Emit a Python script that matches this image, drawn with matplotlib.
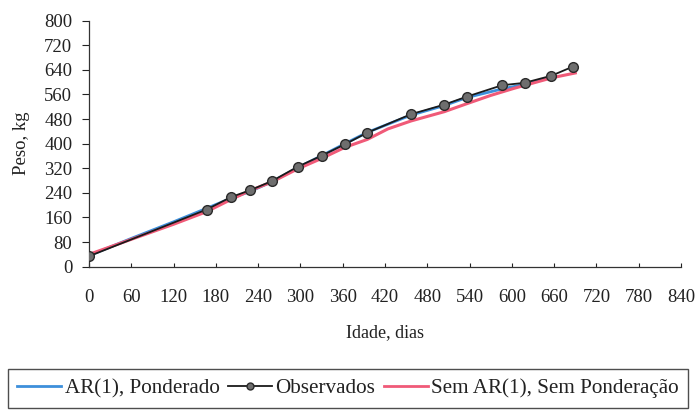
import matplotlib
matplotlib.use("Agg")
import matplotlib.pyplot as plt
from matplotlib.lines import Line2D

# Observed
obs_days = [0, 167, 201, 229, 260, 296, 330, 363, 395, 457, 504, 536, 586, 618, 656, 687]
obs_vals = [34, 186, 226, 249, 279, 325, 361, 398, 436, 496, 527, 553, 590, 598, 621, 651]

# AR(1), Ponderado
ar_days = [0, 60, 120, 167, 201, 229, 260, 296, 330, 363, 395, 457, 504, 536, 586, 618, 656]
ar_vals = [36, 92, 146, 190, 222, 245, 277, 322, 361, 400, 437, 493, 524, 550, 578, 593, 616]

# Sem AR(1), Sem Ponderacao
sem_days = [0, 60, 120, 167, 201, 229, 260, 296, 330, 363, 395, 424, 457, 504, 536, 570, 603, 658, 690]
sem_vals = [40, 89, 138, 179, 218, 248, 276, 318, 352, 388, 414, 448, 474, 504, 530, 557, 580, 615, 630]

xticks = list(range(0, 841, 60))
yticks = list(range(0, 801, 80))

plt.rcParams['font.family'] = ['Liberation Serif', 'DejaVu Serif']

fig = plt.figure(figsize=(6.98, 4.11), dpi=100)
ax = fig.add_axes([89/698, 1-266.7/411, (681-89)/698, (266.7-20.7)/411])

blue = '#3d8fdb'
pink = '#f05a78'
ax.plot(ar_days, ar_vals, color=blue, lw=2.0, zorder=2)
ax.plot(sem_days, sem_vals, color=pink, lw=2.2, zorder=3)
ax.plot(obs_days, obs_vals, color='#1a1a1a', lw=1.3, marker='o', ms=7,
        mfc='#6e6e6e', mec='#2a2a2a', mew=1.0, zorder=4)

ax.set_xlim(0, 840)
ax.set_ylim(0, 800)
ax.set_xticks(xticks)
ax.set_yticks(yticks)
ax.spines['top'].set_visible(False)
ax.spines['right'].set_visible(False)
for s in ['left', 'bottom']:
    ax.spines[s].set_color('#333333')
    ax.spines[s].set_linewidth(0.9)
ax.tick_params(axis='y', direction='out', length=5, width=0.8, pad=7, labelsize=13.5, colors='#222222')
ax.tick_params(axis='x', direction='in', length=3, width=0.8, pad=16, labelsize=13.5, colors='#222222')

ax.set_xlabel('Idade, dias', fontsize=13, labelpad=13, color='#222222')
ax.set_ylabel('Peso, kg', fontsize=13.5, labelpad=10, color='#222222')

handles = [
    Line2D([], [], color=blue, lw=2.0),
    Line2D([], [], color='#1a1a1a', lw=1.3, marker='o', ms=5, mfc='#6e6e6e', mec='#2a2a2a'),
    Line2D([], [], color=pink, lw=2.0),
]
labels = ['AR(1), Ponderado', 'Observados', 'Sem AR(1), Sem Ponderação']
leg = fig.legend(handles, labels, loc='center', ncol=3,
                 bbox_to_anchor=(348/698, 1-388.5/411),
                 fontsize=15.2, frameon=True, fancybox=False, edgecolor='#222222',
                 handlelength=2.1, handletextpad=0.15, columnspacing=0.4,
                 borderpad=0.45, borderaxespad=0)
leg.get_frame().set_linewidth(1.0)
for t in leg.get_texts():
    t.set_color('#222222')

fig.savefig('out.png', dpi=100, facecolor='white')
